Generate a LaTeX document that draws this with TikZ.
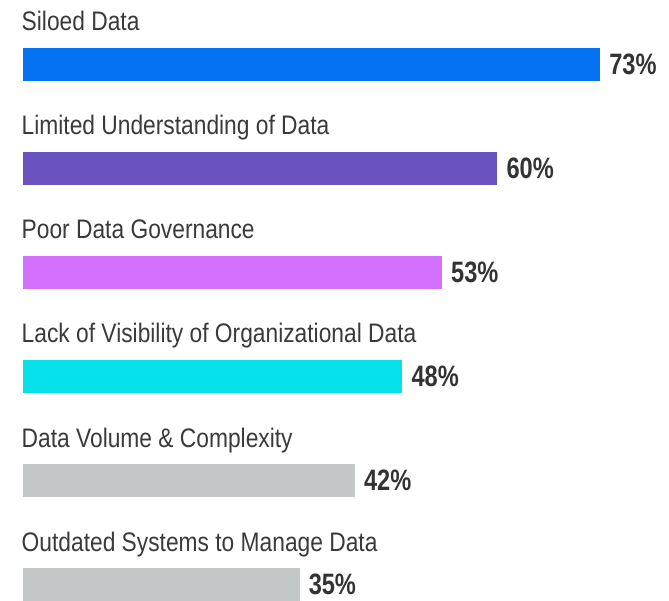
\documentclass[tikz,border=0pt]{standalone}
\usepackage{fontspec}
\newfontfamily\labfont{Liberation Sans}[FakeStretch=0.85]
\newfontfamily\pctfont{Liberation Sans Bold}[FakeStretch=0.8]
\definecolor{txt}{HTML}{3A3A3A}
\definecolor{ptxt}{HTML}{333333}
\definecolor{cblue}{HTML}{0471F1}
\definecolor{cpurple}{HTML}{6A52C0}
\definecolor{cpink}{HTML}{D470FE}
\definecolor{ccyan}{HTML}{05E1E9}
\definecolor{cgrey}{HTML}{C3C7C8}
\tikzset{
  catlabel/.style={anchor=base west, inner sep=0pt, text=txt, font=\labfont\fontsize{26.8}{30}\selectfont},
  pctlabel/.style={anchor=base west, inner sep=0pt, text=ptxt, font=\pctfont\fontsize{29.5}{32}\selectfont}
}
\begin{document}
\begin{tikzpicture}[x=1pt,y=-1pt]
\useasboundingbox (0,0) rectangle (669,601);
\foreach \i/\lab/\p/\col in {
  0/Siloed Data/73/cblue,
  1/Limited Understanding of Data/60/cpurple,
  2/Poor Data Governance/53/cpink,
  3/Lack of Visibility of Organizational Data/48/ccyan,
  4/Data Volume \& Complexity/42/cgrey,
  5/Outdated Systems to Manage Data/35/cgrey}{
  \pgfmathsetmacro{\top}{48+104*\i}
  \pgfmathsetmacro{\base}{31+104*\i}
  \pgfmathsetmacro{\xr}{22.7+7.91*\p}
  \node[catlabel] (lab\i) at (21.5,\base) {\lab};
  \fill[\col] (22.7,\top) rectangle (\xr,\top+33.4) coordinate (bar\i);
  \node[pctlabel] (pct\i) at (\xr+9,\top+26.3) {\p\%};
}
\end{tikzpicture}
\end{document}
